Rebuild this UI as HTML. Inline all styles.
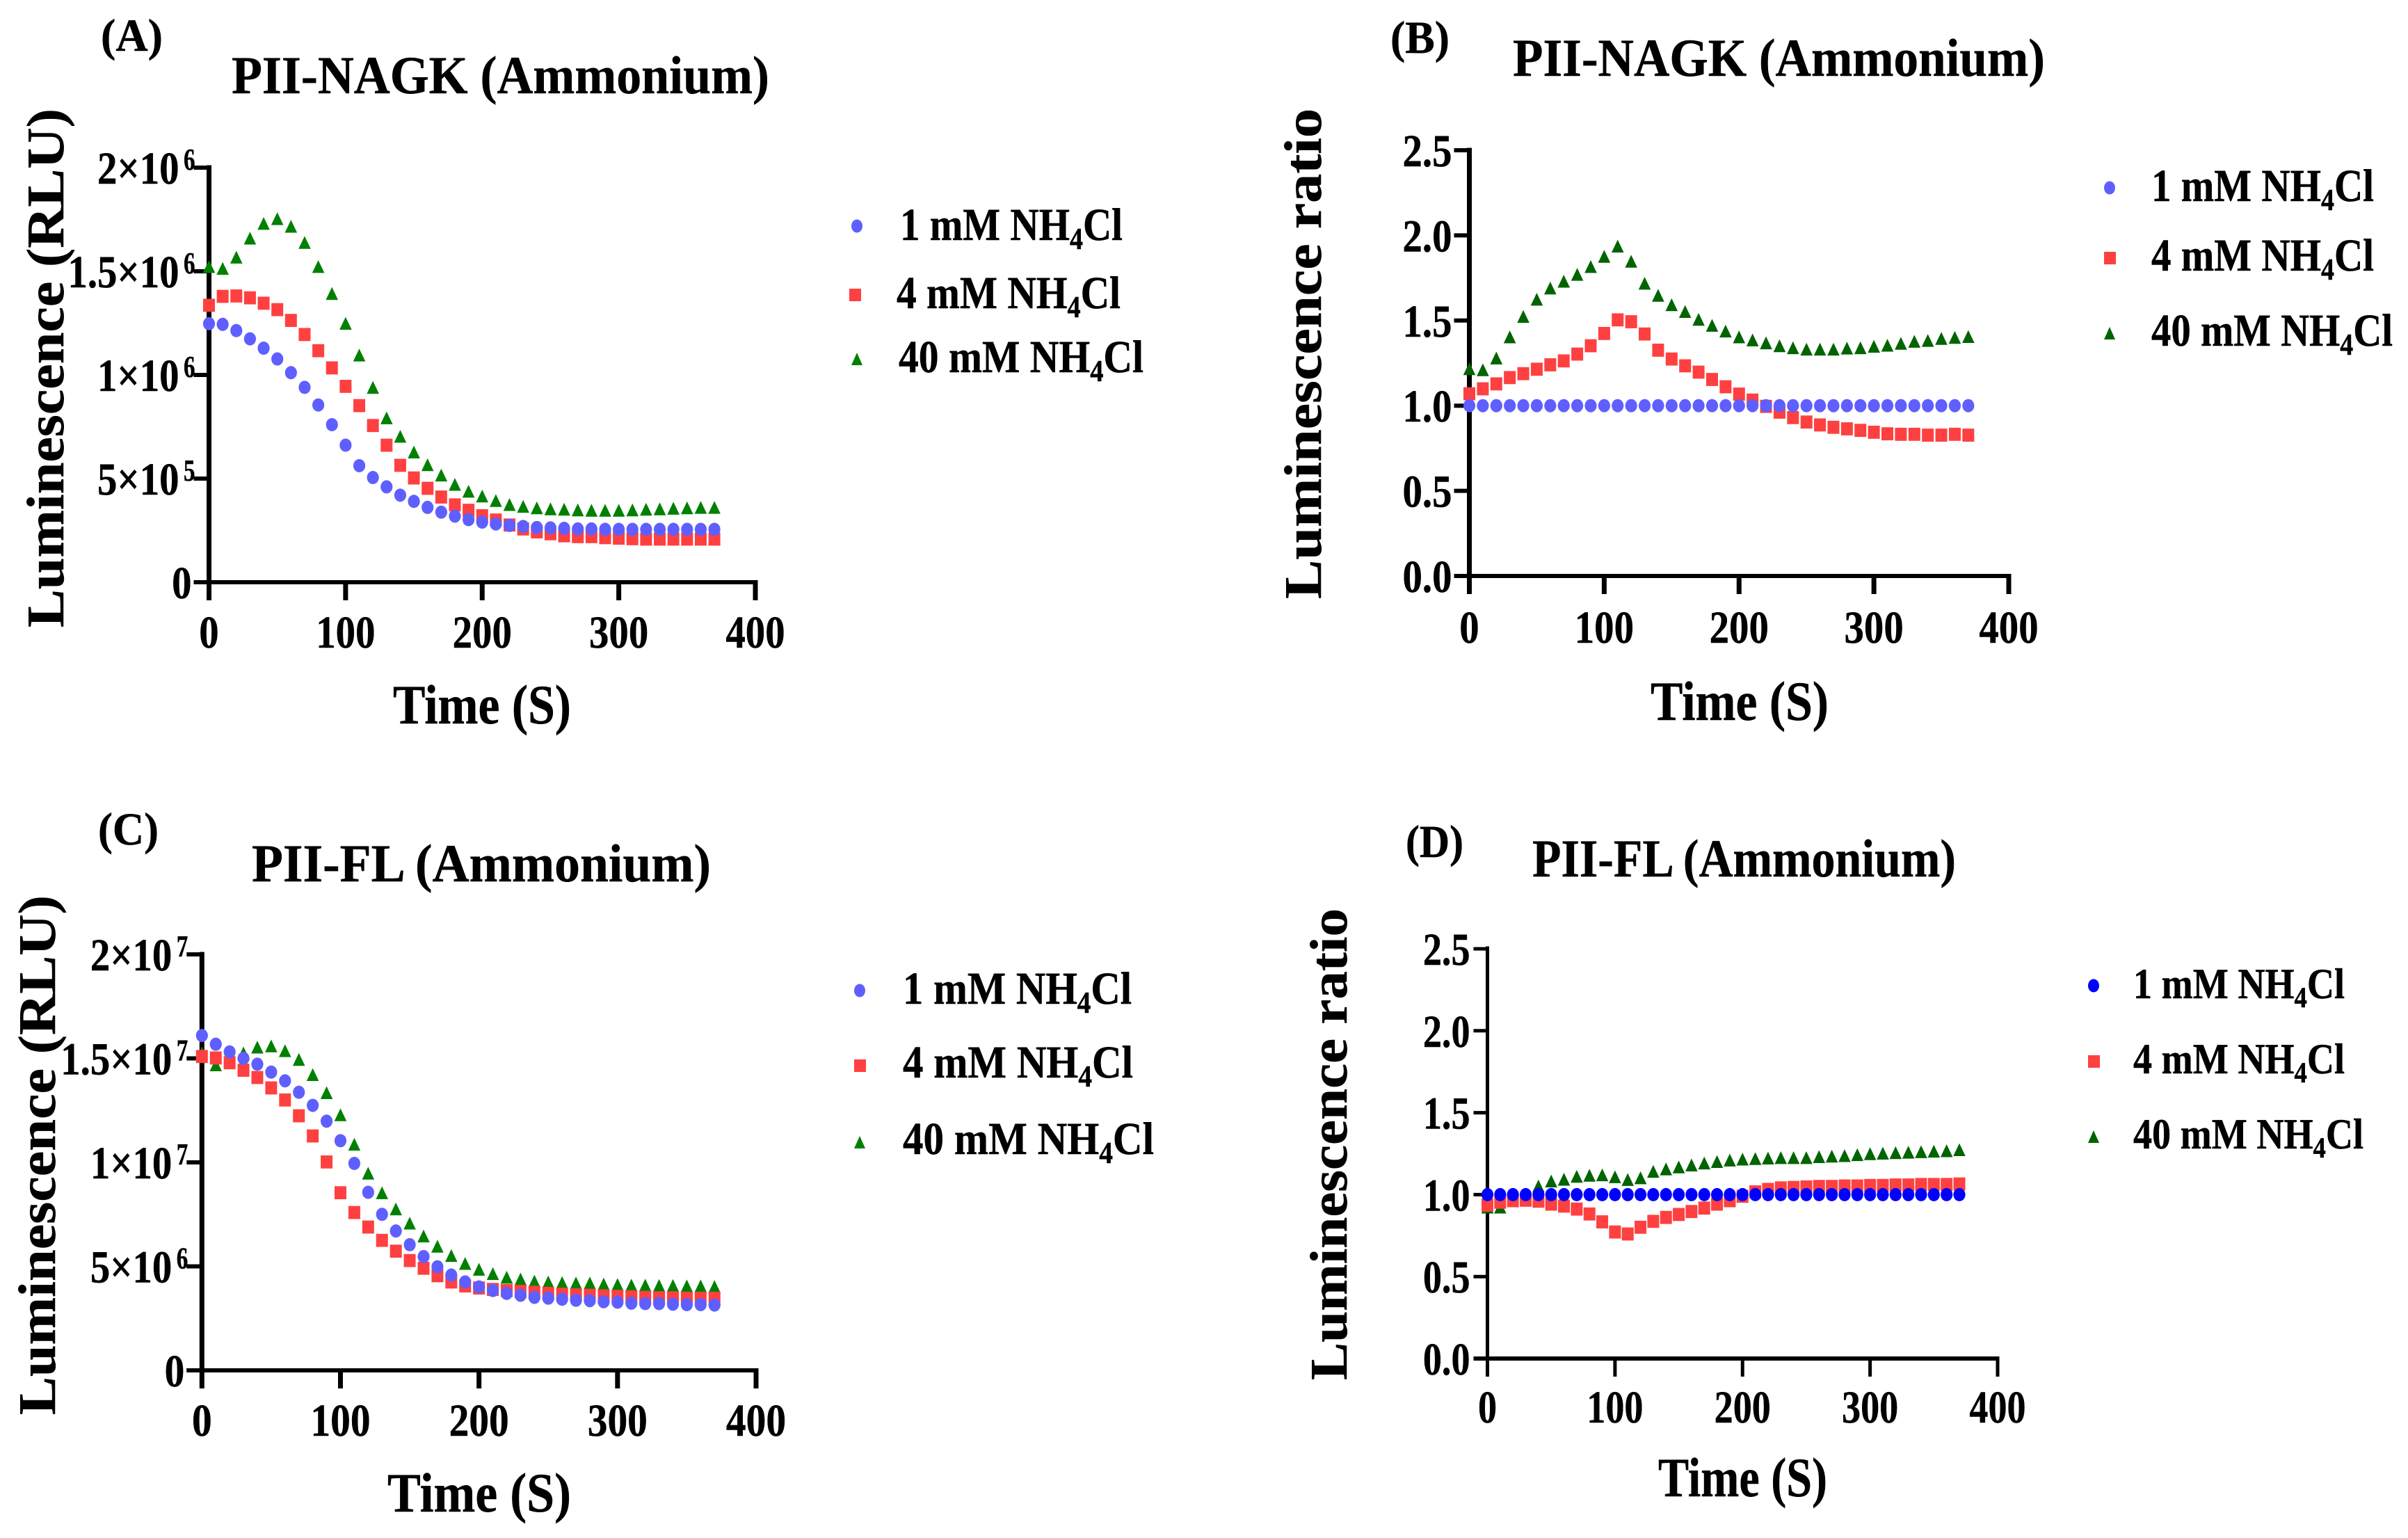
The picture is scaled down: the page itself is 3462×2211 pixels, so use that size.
<!DOCTYPE html>
<html>
<head>
<meta charset="utf-8">
<title>PII luminescence charts</title>
<style>
html,body{margin:0;padding:0;background:#fff;}
svg{display:block;}
text{font-family:"Liberation Serif",serif;font-weight:bold;fill:#000;stroke:#000;stroke-width:0.5px;text-rendering:geometricPrecision;}
</style>
</head>
<body>
<svg id="figure" width="3462" height="2211" viewBox="0 0 3462 2211" xmlns="http://www.w3.org/2000/svg">
<rect width="3462" height="2211" fill="#fff"/>

<g id="panel-a">
<text font-size="66" data-w="89" transform="translate(145,73)">(A)</text>
<text font-size="77" data-w="773" transform="translate(333,134)">PII-NAGK (Ammonium)</text>
<text font-size="76" data-w="746" transform="translate(91,902) rotate(-90)">Luminescence (RLU)</text>
<text font-size="80" data-w="256" transform="translate(565,1040)">Time (S)</text>
<g>
<ellipse cx="1232" cy="325" rx="8" ry="9.5" fill="#5f5fff"/>
<text font-size="66" data-w="320" transform="translate(1294,345)">1 mM NH<tspan dy="13" font-size="44">4</tspan><tspan dy="-13">Cl</tspan></text>
<rect x="1221" y="415" width="17" height="18" fill="#ff4040"/>
<text font-size="66" data-w="322" transform="translate(1289,443)">4 mM NH<tspan dy="13" font-size="44">4</tspan><tspan dy="-13">Cl</tspan></text>
<polygon points="1232,507 1240,525 1224,525" fill="#008000"/>
<text font-size="66" data-w="352" transform="translate(1292,535)">40 mM NH<tspan dy="13" font-size="44">4</tspan><tspan dy="-13">Cl</tspan></text>
</g>
</g>

<g id="panel-b">
<text font-size="66" data-w="85" transform="translate(1999,76)">(B)</text>
<text font-size="77" data-w="765" transform="translate(2175,109)">PII-NAGK (Ammonium)</text>
<text font-size="76" data-w="705" transform="translate(1899,861) rotate(-90)">Luminescence ratio</text>
<text font-size="80" data-w="256" transform="translate(2373,1035)">Time (S)</text>
<g>
<ellipse cx="3033" cy="270" rx="8" ry="9.5" fill="#5f5fff"/>
<text font-size="66" data-w="320" transform="translate(3093,289)">1 mM NH<tspan dy="13" font-size="44">4</tspan><tspan dy="-13">Cl</tspan></text>
<rect x="3025" y="362" width="17" height="18" fill="#ff4040"/>
<text font-size="66" data-w="320" transform="translate(3093,389)">4 mM NH<tspan dy="13" font-size="44">4</tspan><tspan dy="-13">Cl</tspan></text>
<polygon points="3033,470 3041,488 3025,488" fill="#006400"/>
<text font-size="66" data-w="347" transform="translate(3093,497)">40 mM NH<tspan dy="13" font-size="44">4</tspan><tspan dy="-13">Cl</tspan></text>
</g>
</g>

<g id="panel-c">
<text font-size="66" data-w="87" transform="translate(141,1214)">(C)</text>
<text font-size="77" data-w="660" transform="translate(362,1267)">PII-FL (Ammonium)</text>
<text font-size="76" data-w="747" transform="translate(79,2034) rotate(-90)">Luminescence (RLU)</text>
<text font-size="80" data-w="264" transform="translate(557,2173)">Time (S)</text>
<g>
<ellipse cx="1236" cy="1424" rx="8" ry="9.5" fill="#5f5fff"/>
<text font-size="66" data-w="329" transform="translate(1298,1443)">1 mM NH<tspan dy="13" font-size="44">4</tspan><tspan dy="-13">Cl</tspan></text>
<rect x="1228" y="1523" width="17" height="18" fill="#ff4040"/>
<text font-size="66" data-w="331" transform="translate(1298,1549)">4 mM NH<tspan dy="13" font-size="44">4</tspan><tspan dy="-13">Cl</tspan></text>
<polygon points="1236,1633 1244,1651 1228,1651" fill="#008000"/>
<text font-size="66" data-w="361" transform="translate(1298,1659)">40 mM NH<tspan dy="13" font-size="44">4</tspan><tspan dy="-13">Cl</tspan></text>
</g>
</g>

<g id="panel-d">
<text font-size="66" data-w="83" transform="translate(2021,1232)">(D)</text>
<text font-size="77" data-w="609" transform="translate(2203,1260)">PII-FL (Ammonium)</text>
<text font-size="76" data-w="678" transform="translate(1936,1984) rotate(-90)">Luminescence ratio</text>
<text font-size="80" data-w="243" transform="translate(2384,2151)">Time (S)</text>
<g>
<ellipse cx="3010" cy="1417" rx="8" ry="9.5" fill="#0000ff"/>
<text font-size="62" data-w="304" transform="translate(3067,1435)">1 mM NH<tspan dy="13" font-size="42">4</tspan><tspan dy="-13">Cl</tspan></text>
<rect x="3002" y="1517" width="17" height="18" fill="#ff4040"/>
<text font-size="62" data-w="304" transform="translate(3067,1543)">4 mM NH<tspan dy="13" font-size="42">4</tspan><tspan dy="-13">Cl</tspan></text>
<polygon points="3010,1625 3018,1643 3002,1643" fill="#006400"/>
<text font-size="62" data-w="331" transform="translate(3067,1651)">40 mM NH<tspan dy="13" font-size="42">4</tspan><tspan dy="-13">Cl</tspan></text>
</g>
</g>
</svg>

<script>
const timeSeconds = [0,10,20,30,40,50,60,70,80,90,100,110,120,130,140,150,160,170,180,190,200,210,220,230,240,250,260,270,280,290,300,310,320,330,340,350,360,370];

// Panel A, RLU in units of 1e6
const panelA1mM = [1.247,1.244,1.214,1.174,1.129,1.077,1.011,0.94,0.855,0.76,0.661,0.562,0.505,0.46,0.42,0.39,0.361,0.338,0.319,0.302,0.29,0.281,0.274,0.269,0.264,0.262,0.26,0.257,0.257,0.255,0.255,0.255,0.255,0.255,0.255,0.255,0.255,0.255];
const panelA4mM = [1.336,1.379,1.381,1.372,1.346,1.315,1.263,1.195,1.117,1.034,0.945,0.852,0.756,0.661,0.564,0.503,0.453,0.411,0.373,0.347,0.321,0.3,0.276,0.257,0.243,0.234,0.224,0.22,0.22,0.215,0.2125,0.21,0.208,0.208,0.208,0.208,0.208,0.208];
const panelA40mM = [1.523,1.514,1.568,1.66,1.731,1.754,1.717,1.639,1.523,1.393,1.249,1.096,0.94,0.793,0.704,0.628,0.567,0.517,0.472,0.439,0.416,0.394,0.375,0.366,0.359,0.354,0.352,0.349,0.347,0.347,0.347,0.349,0.352,0.354,0.357,0.359,0.361,0.361];

// Panel B, ratio
const panelB1mM = [1,1,1,1,1,1,1,1,1,1,1,1,1,1,1,1,1,1,1,1,1,1,1,1,1,1,1,1,1,1,1,1,1,1,1,1,1,1];
const panelB4mM = [1.07,1.099,1.128,1.165,1.188,1.214,1.24,1.263,1.303,1.352,1.424,1.504,1.493,1.421,1.326,1.274,1.234,1.197,1.154,1.111,1.068,1.033,0.996,0.962,0.93,0.904,0.887,0.873,0.864,0.855,0.844,0.835,0.832,0.832,0.827,0.827,0.832,0.827];
const panelB40mM = [1.217,1.211,1.28,1.404,1.524,1.625,1.691,1.731,1.771,1.817,1.877,1.937,1.848,1.719,1.648,1.593,1.553,1.507,1.472,1.438,1.404,1.386,1.369,1.352,1.34,1.332,1.332,1.332,1.338,1.34,1.349,1.355,1.366,1.378,1.383,1.395,1.401,1.406];

// Panel C, RLU in units of 1e6
const panelC1mM = [16.1,15.68,15.31,15.0,14.72,14.34,13.92,13.37,12.74,11.98,11.04,9.95,8.56,7.5,6.7,6.04,5.47,4.98,4.58,4.25,4.01,3.84,3.7,3.61,3.51,3.47,3.42,3.37,3.35,3.3,3.28,3.23,3.21,3.21,3.18,3.16,3.16,3.14];
const panelC4mM = [15.09,15.02,14.79,14.43,14.08,13.58,13.0,12.24,11.27,10.02,8.54,7.59,6.89,6.25,5.73,5.28,4.91,4.55,4.25,4.06,3.96,3.89,3.84,3.8,3.75,3.7,3.66,3.63,3.61,3.58,3.56,3.54,3.51,3.49,3.49,3.47,3.47,3.47];
const panelC40mM = [15.26,14.69,14.93,15.26,15.54,15.6,15.37,14.95,14.22,13.35,12.29,10.87,9.48,8.54,7.76,7.08,6.46,5.97,5.52,5.14,4.86,4.65,4.48,4.39,4.29,4.25,4.22,4.2,4.2,4.15,4.13,4.1,4.1,4.08,4.08,4.06,4.06,4.03];

// Panel D, ratio
const panelD1mM = [1,1,1,1,1,1,1,1,1,1,1,1,1,1,1,1,1,1,1,1,1,1,1,1,1,1,1,1,1,1,1,1,1,1,1,1,1,1];
const panelD4mM = [0.936,0.954,0.963,0.966,0.96,0.942,0.93,0.912,0.882,0.834,0.772,0.76,0.801,0.837,0.861,0.879,0.897,0.918,0.942,0.963,0.99,1.017,1.032,1.041,1.044,1.047,1.05,1.05,1.053,1.053,1.056,1.056,1.059,1.059,1.062,1.062,1.062,1.065];
const panelD40mM = [0.924,0.924,0.963,0.999,1.053,1.083,1.094,1.112,1.118,1.121,1.109,1.092,1.103,1.142,1.157,1.169,1.181,1.193,1.202,1.211,1.217,1.22,1.223,1.226,1.226,1.226,1.232,1.235,1.238,1.244,1.25,1.253,1.256,1.259,1.262,1.265,1.268,1.274];

const xTickValues = [0,100,200,300,400];
const yTicksAValues = [0,0.5,1,1.5,2];
const yTicksALabels = ["0","5×10","1×10","1.5×10","2×10"];
const yTicksAExponents = ["","5","6","6","6"];
const yTicksRatioValues = [0,0.5,1,1.5,2,2.5];
const yTicksRatioLabels = ["0.0","0.5","1.0","1.5","2.0","2.5"];
const yTicksCValues = [0,5,10,15,20];
const yTicksCLabels = ["0","5×10","1×10","1.5×10","2×10"];
const yTicksCExponents = ["","6","7","7","7"];

const panels = [
  {id:"panel-a",key:"a",x0:300.5,x1:1086,y0:837,y1:241,yMax:2,xBase:931,sv:7,sh:6,st:6,tl:22,sx:0.86,yVals:yTicksAValues,yLabs:yTicksALabels,yExps:yTicksAExponents,
   low:panelA1mM,mid:panelA4mM,high:panelA40mM,lowColor:"#5f5fff",highColor:"#008000"},
  {id:"panel-b",key:"b",x0:2112.5,x1:2888,y0:828,y1:216,yMax:2.5,xBase:924,sv:7,sh:6,st:6,tl:22,sx:0.86,yVals:yTicksRatioValues,yLabs:yTicksRatioLabels,yExps:null,
   low:panelB1mM,mid:panelB4mM,high:panelB40mM,lowColor:"#5f5fff",highColor:"#006400"},
  {id:"panel-c",key:"c",x0:290.3,x1:1087,y0:1970,y1:1372,yMax:20,xBase:2064,sv:7,sh:6,st:6,tl:22,sx:0.87,yVals:yTicksCValues,yLabs:yTicksCLabels,yExps:yTicksCExponents,
   low:panelC1mM,mid:panelC4mM,high:panelC40mM,lowColor:"#5f5fff",highColor:"#008000"},
  {id:"panel-d",key:"d",x0:2138.5,x1:2872,y0:1953,y1:1364,yMax:2.5,xBase:2045,sv:5,sh:6,st:5,tl:20,sx:0.82,yVals:yTicksRatioValues,yLabs:yTicksRatioLabels,yExps:null,
   low:panelD1mM,mid:panelD4mM,high:panelD40mM,lowColor:"#0000ff",highColor:"#006400"}
];

const NS = "http://www.w3.org/2000/svg";

function fitTexts() {
  document.querySelectorAll("text[data-w]").forEach(function (t) {
    const natural = t.getComputedTextLength();
    const target = parseFloat(t.getAttribute("data-w"));
    t.setAttribute("transform", t.getAttribute("transform") + " scale(" + (target / natural) + ",1)");
  });
}

function line(parent, x1, y1, x2, y2, sw, name) {
  const l = document.createElementNS(NS, "line");
  l.setAttribute("x1", x1);
  l.setAttribute("y1", y1);
  l.setAttribute("x2", x2);
  l.setAttribute("y2", y2);
  l.setAttribute("stroke", "#000");
  l.setAttribute("stroke-width", sw);
  
  
  parent.appendChild(l);
}

function label(parent, str, x, y, size, sx, anchor, name) {
  const t = document.createElementNS(NS, "text");
  t.textContent = str;
  t.setAttribute("font-size", size);
  t.setAttribute("text-anchor", anchor);
  t.setAttribute("transform", "translate(" + x + "," + y + ") scale(" + sx + ",1)");
  
  
  parent.appendChild(t);
}

function drawPanel(p) {
  const root = document.getElementById(p.id);
  const xScale = function (v) { return p.x0 + (v / 400) * (p.x1 - p.x0); };
  const yScale = function (v) { return p.y0 - (v / p.yMax) * (p.y0 - p.y1); };

  const axes = document.createElementNS(NS, "g");
  
  
  root.appendChild(axes);

  line(axes, p.x0, p.y0, p.x0, p.y1 - 3.5, p.sv, "y-axis-line");
  line(axes, p.x0 - p.tl, p.y0, p.x1 + p.sv / 2, p.y0, p.sh, "x-axis-line");

  xTickValues.forEach(function (v) {
    line(axes, xScale(v), p.y0, xScale(v), p.y0 + 26, p.sv, "x-tick");
    label(axes, String(v), xScale(v), p.xBase, 66, p.sx, "middle", "x-tick-label");
  });

  p.yVals.forEach(function (v, i) {
    const y = yScale(v);
    line(axes, p.x0 - p.tl, y, p.x0, y, p.st, "y-tick");
    const exp = p.yExps ? p.yExps[i] : "";
    if (exp) {
      label(axes, p.yLabs[i], p.x0 - 43, y + 23, 66, 0.86, "end", "y-tick-label");
      label(axes, exp, p.x0 - 20, y + 3, 44, 0.75, "end", "y-tick-exponent");
    } else {
      label(axes, p.yLabs[i], p.x0 - 25, y + 23, 66, p.sx, "end", "y-tick-label");
    }
  });

  const marks = document.createElementNS(NS, "g");
  
  
  root.appendChild(marks);

  timeSeconds.forEach(function (t, i) {
    const x = xScale(t);
    const y = yScale(p.high[i]);
    const tri = document.createElementNS(NS, "polygon");
    tri.setAttribute("points", x + "," + (y - 9.2) + " " + (x + 8.8) + "," + (y + 9.2) + " " + (x - 8.8) + "," + (y + 9.2));
    tri.setAttribute("fill", p.highColor);
    
    
    marks.appendChild(tri);
  });
  timeSeconds.forEach(function (t, i) {
    const x = xScale(t);
    const y = yScale(p.mid[i]);
    const sq = document.createElementNS(NS, "rect");
    sq.setAttribute("x", x - 8.5);
    sq.setAttribute("y", y - 9.4);
    sq.setAttribute("width", 17);
    sq.setAttribute("height", 18.8);
    sq.setAttribute("fill", "#ff4040");
    
    
    marks.appendChild(sq);
  });
  timeSeconds.forEach(function (t, i) {
    const x = xScale(t);
    const y = yScale(p.low[i]);
    const c = document.createElementNS(NS, "ellipse");
    c.setAttribute("cx", x);
    c.setAttribute("cy", y);
    c.setAttribute("rx", 8.6);
    c.setAttribute("ry", 9.5);
    c.setAttribute("fill", p.lowColor);
    
    
    marks.appendChild(c);
  });
}

fitTexts();
panels.forEach(drawPanel);
</script>
</body>
</html>
